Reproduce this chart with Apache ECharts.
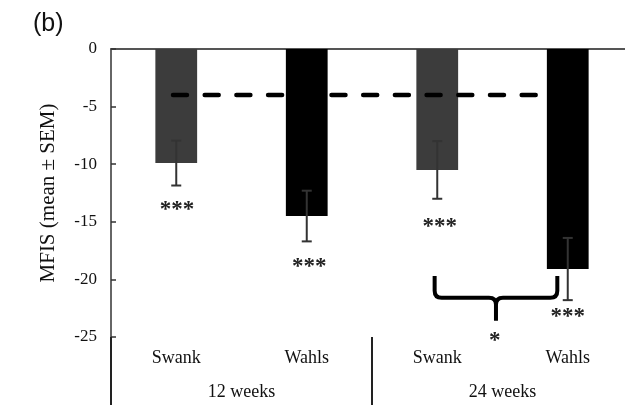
<!DOCTYPE html>
<html>
<head>
<meta charset="utf-8">
<script src="https://cdn.jsdelivr.net/npm/echarts@6/dist/echarts.min.js"></script>
<style>html,body{margin:0;padding:0;background:#fff}#c{width:625px;height:405px}</style>
</head>
<body>
<div id="c"></div>
<script>
// ---- data ----
var categories = ['Swank', 'Wahls', 'Swank', 'Wahls'];
var groups = ['12 weeks', '24 weeks'];
var meanValues = [-9.9, -14.5, -10.5, -19.1];
var semValues = [1.95, 2.2, 2.5, 2.7];
var barColors = ['#3c3c3c', '#000000', '#3c3c3c', '#000000'];
var referenceLine = [[0.475, -4], [3.31, -4]];
var sigMarks = [[0.505, -14.0, '***'], [1.52, -18.9, '***'], [2.52, -15.5, '***'], [3.5, -23.3, '***'], [2.94, -25.35, '*']];
var brace = [[2.48, 3.42, 2.95, -19.7, -21.6, -23.6]];
var yTicks = { min: -25, max: 0, interval: 5 };

var serif = 'Liberation Serif';
var chart = echarts.init(document.getElementById('c'));

var errData = meanValues.map(function (m, i) { return [i, m + semValues[i], m - semValues[i]]; });

chart.setOption({
  animation: false,
  title: { text: '(b)', left: 28, top: 7, textStyle: { fontFamily: 'Liberation Sans', fontSize: 25, fontWeight: 'normal', color: '#111' } },
  grid: { left: 111, top: 49, width: 522, height: 288, outerBoundsMode: 'none', containLabel: false },
  yAxis: {
    type: 'value', min: yTicks.min, max: yTicks.max, interval: yTicks.interval,
    name: 'MFIS (mean ± SEM)', nameLocation: 'middle', nameGap: 52,
    nameTextStyle: { fontFamily: serif, fontSize: 21, color: '#111' },
    axisLine: { show: true, lineStyle: { color: '#333', width: 1.5 } },
    axisTick: { show: true, inside: true, length: 5, lineStyle: { color: '#333', width: 1.5 } },
    axisLabel: { fontFamily: serif, fontSize: 17, color: '#111', margin: 14 },
    splitLine: { show: false }
  },
  xAxis: [
    { type: 'category', data: categories, position: 'top',
      axisLine: { onZero: false, lineStyle: { color: '#555', width: 2 } },
      axisTick: { show: false }, axisLabel: { show: false } },
    { type: 'category', data: categories, position: 'bottom',
      axisLine: { show: false, onZero: false }, axisTick: { show: false },
      axisLabel: { fontFamily: serif, fontSize: 18, color: '#111', margin: 12 } },
    { type: 'category', data: groups, position: 'bottom',
      axisLine: { show: false, onZero: false },
      axisTick: { show: true, interval: 0, length: 68, lineStyle: { color: '#222', width: 2 } },
      axisLabel: { fontFamily: serif, fontSize: 18, color: '#111', margin: 46 } },
    { type: 'value', min: 0, max: 4, show: false, position: 'bottom' }
  ],
  series: [
    { type: 'bar', xAxisIndex: 0, barWidth: '32%',
      data: meanValues.map(function (v, i) { return { value: v, itemStyle: { color: barColors[i] } }; }) },
    { type: 'custom', xAxisIndex: 0, z: 5, data: errData,
      renderItem: function (params, api) {
        var top = api.coord([api.value(0), api.value(1)]);
        var bot = api.coord([api.value(0), api.value(2)]);
        var w = 5;
        var st = { stroke: '#333', lineWidth: 2 };
        return { type: 'group', children: [
          { type: 'line', shape: { x1: top[0], y1: top[1], x2: bot[0], y2: bot[1] }, style: st },
          { type: 'line', shape: { x1: top[0] - w, y1: top[1], x2: top[0] + w, y2: top[1] }, style: st },
          { type: 'line', shape: { x1: bot[0] - w, y1: bot[1], x2: bot[0] + w, y2: bot[1] }, style: st }
        ] };
      } },
    { type: 'line', xAxisIndex: 3, data: referenceLine, symbol: 'none', z: 10,
      lineStyle: { color: '#000', width: 4.5, type: [14, 17.7], cap: 'round' } },
    { type: 'custom', xAxisIndex: 3, z: 10, data: brace,
      renderItem: function (params, api) {
        var L = api.coord([api.value(0), api.value(3)]);
        var R = api.coord([api.value(1), api.value(3)]);
        var M = api.coord([api.value(2), api.value(4)]);
        var T = api.coord([api.value(2), api.value(5)]);
        var yh = M[1], r = 7;
        var p = 'M' + L[0] + ' ' + L[1] +
          ' L' + L[0] + ' ' + (yh - r) +
          ' Q' + L[0] + ' ' + yh + ' ' + (L[0] + r) + ' ' + yh +
          ' L' + (M[0] - r) + ' ' + yh +
          ' Q' + M[0] + ' ' + yh + ' ' + M[0] + ' ' + (yh + r) +
          ' L' + M[0] + ' ' + T[1] +
          ' M' + M[0] + ' ' + (yh + r) +
          ' Q' + M[0] + ' ' + yh + ' ' + (M[0] + r) + ' ' + yh +
          ' L' + (R[0] - r) + ' ' + yh +
          ' Q' + R[0] + ' ' + yh + ' ' + R[0] + ' ' + (yh - r) +
          ' L' + R[0] + ' ' + R[1];
        return { type: 'path', shape: { pathData: p }, style: { stroke: '#000', lineWidth: 4, fill: null } };
      } },
    { type: 'custom', xAxisIndex: 3, z: 10, data: sigMarks,
      renderItem: function (params, api) {
        var c = api.coord([api.value(0), api.value(1)]);
        return { type: 'text', x: c[0], y: c[1],
          style: { text: sigMarks[params.dataIndex][2], fontFamily: serif, fontSize: 23, fontWeight: 'bold', fill: '#222', align: 'center', verticalAlign: 'middle' } };
      } }
  ]
});
</script>
</body>
</html>
